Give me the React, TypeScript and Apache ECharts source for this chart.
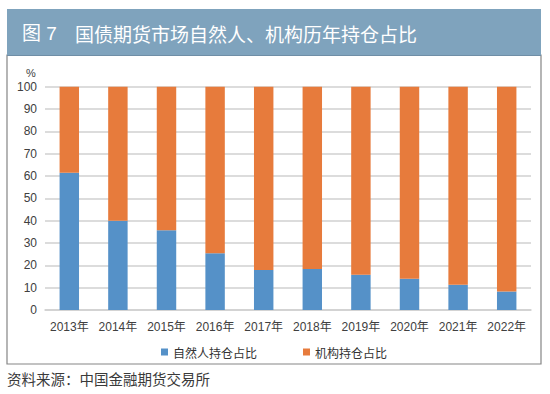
import React, { useEffect, useRef } from "react";
import * as echarts from "echarts";

const categories = ["2013年", "2014年", "2015年", "2016年", "2017年", "2018年", "2019年", "2020年", "2021年", "2022年"];
const naturalPersonShare = [61.5, 40.0, 35.7, 25.4, 17.9, 18.4, 15.8, 14.0, 11.3, 8.3];
const institutionShare = [38.5, 60.0, 64.3, 74.6, 82.1, 81.6, 84.2, 86.0, 88.7, 91.7];
const seriesNames = ["自然人持仓占比", "机构持仓占比"];
const figureLabel = "图 7";
const titleText = "国债期货市场自然人、机构历年持仓占比";
const sourceText = "资料来源：中国金融期货交易所";
const unitText = "%";

const FONT = '"Noto Sans CJK SC", "Liberation Sans", Arial, sans-serif';
const MIXED = '"Liberation Sans", Arial, "Noto Sans CJK SC", sans-serif';

export default function App() {
  const ref = useRef<HTMLDivElement>(null);
  useEffect(() => {
    if (!ref.current) return;
    const chart = echarts.init(ref.current, undefined, { renderer: "svg" });
    chart.setOption({
      animation: false,
      backgroundColor: "#ffffff",
      textStyle: { fontFamily: FONT },
      graphic: [
        {
          type: "rect",
          shape: { x: 7, y: 55, width: 534, height: 309 },
          style: { fill: "none", stroke: "#858585", lineWidth: 1.2 },
          z: -1,
        },
        {
          type: "rect",
          shape: { x: 7, y: 9, width: 534, height: 46 },
          style: { fill: "#7fa3bd" },
        },
        {
          type: "line",
          shape: { x1: 7, y1: 55.5, x2: 541, y2: 55.5 },
          style: { stroke: "#6f8ea6", lineWidth: 1 },
        },
        {
          type: "text",
          x: 22,
          y: 33,
          style: { text: figureLabel, fill: "#ffffff", fontSize: 19, fontFamily: MIXED, verticalAlign: "middle" },
        },
        {
          type: "text",
          x: 75,
          y: 33,
          style: { text: titleText, fill: "#ffffff", fontSize: 19, fontFamily: FONT, verticalAlign: "middle" },
        },
        {
          type: "text",
          x: 31,
          y: 73,
          style: { text: unitText, fill: "#404040", fontSize: 11, fontFamily: MIXED, align: "center", verticalAlign: "middle" },
        },
        {
          type: "text",
          x: 7,
          y: 378,
          style: { text: sourceText, fill: "#3a3a3a", fontSize: 14.5, fontFamily: FONT, verticalAlign: "middle" },
        },
      ],
      legend: {
        left: 156,
        top: 341,
        itemWidth: 7,
        itemHeight: 7,
        itemGap: 46,
        icon: "rect",
        textStyle: { fontSize: 12, color: "#333333", fontFamily: FONT },
        data: seriesNames,
      },
      grid: { left: 45, right: 19, top: 86.7, bottom: 84, containLabel: false },
      xAxis: {
        type: "category",
        data: categories,
        axisLine: { show: true, lineStyle: { color: "#d0d0d0", width: 1.5 } },
        axisTick: { show: false },
        axisLabel: { color: "#404040", fontSize: 12, margin: 11, fontFamily: MIXED, interval: 0 },
      },
      yAxis: {
        type: "value",
        min: 0,
        max: 100,
        interval: 10,
        axisLine: { show: false },
        axisTick: { show: false },
        axisLabel: { color: "#404040", fontSize: 12, margin: 8, fontFamily: MIXED },
        splitLine: { show: true, lineStyle: { color: "#d0d0d0", width: 1.5 } },
      },
      series: [
        {
          name: seriesNames[0],
          type: "bar",
          stack: "total",
          barWidth: "40%",
          data: naturalPersonShare,
          itemStyle: { color: "#5591c8" },
        },
        {
          name: seriesNames[1],
          type: "bar",
          stack: "total",
          barWidth: "40%",
          data: institutionShare,
          itemStyle: { color: "#e77b3c" },
        },
      ],
    });
    return () => chart.dispose();
  }, []);
  return (
    <div
      ref={ref}
      style={{ position: "absolute", left: 0, top: 0, width: 550, height: 394 }}
    />
  );
}
